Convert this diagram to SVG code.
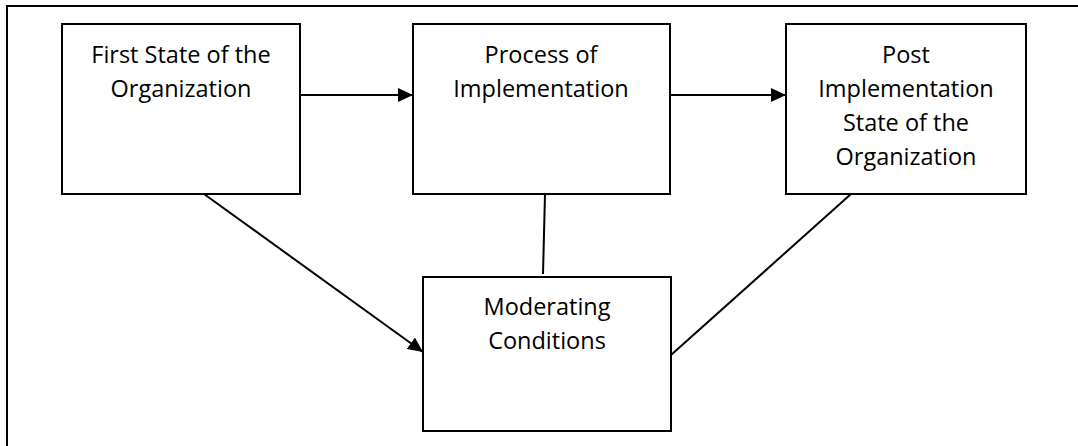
<svg xmlns="http://www.w3.org/2000/svg" width="1078" height="446" viewBox="0 0 1078 446">
<style>
.box{fill:#fff;stroke:#000;stroke-width:2}
.lbl{font-family:"Open Sans","Liberation Sans",sans-serif;font-size:23.5px;fill:#000;text-anchor:middle}
.con{stroke:#000;stroke-width:2;fill:none}
</style>
<defs>
<marker id="arrL" markerWidth="15" markerHeight="14" refX="15" refY="7" orient="auto" markerUnits="userSpaceOnUse" viewBox="0 0 15 14">
<path d="M0,0 L15,7 L0,14 z" fill="#000"/>
</marker>
</defs>
<rect width="1078" height="446" fill="#fff"/>
<g id="frame">
<line x1="6" y1="6" x2="1078" y2="6" class="con"/>
<line x1="7" y1="6" x2="7" y2="446" class="con" stroke-width="2.5"/>
</g>
<g id="connectors">
<line x1="300" y1="95" x2="413" y2="95" class="con" marker-end="url(#arrL)"/>
<line x1="670" y1="95" x2="786" y2="95" class="con" marker-end="url(#arrL)"/>
<line x1="204" y1="194" x2="423" y2="352" class="con" marker-end="url(#arrL)"/>
<line x1="545" y1="194" x2="543" y2="274" class="con"/>
<line x1="851" y1="194" x2="671" y2="355" class="con"/>
</g>
<g id="first-state">
<rect x="62" y="24" width="238" height="170" class="box"/>
<text class="lbl" x="181" y="63">First State of the</text>
<text class="lbl" x="181" y="97">Organization</text>
</g>
<g id="process">
<rect x="413" y="24" width="257" height="170" class="box"/>
<text class="lbl" x="541" y="63">Process of</text>
<text class="lbl" x="541" y="97">Implementation</text>
</g>
<g id="post-state">
<rect x="786" y="24" width="240" height="170" class="box"/>
<text class="lbl" x="906" y="63">Post</text>
<text class="lbl" x="906" y="97">Implementation</text>
<text class="lbl" x="906" y="131">State of the</text>
<text class="lbl" x="906" y="165">Organization</text>
</g>
<g id="moderating">
<rect x="423" y="277" width="248" height="154" class="box"/>
<text class="lbl" x="547" y="315">Moderating</text>
<text class="lbl" x="547" y="349">Conditions</text>
</g>
</svg>
